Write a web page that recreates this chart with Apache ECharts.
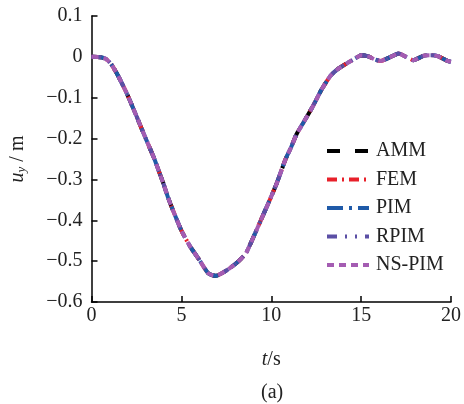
<!DOCTYPE html>
<html><head><meta charset="utf-8">
<script src="https://cdn.jsdelivr.net/npm/echarts@6/dist/echarts.min.js"></script>
<style>html,body{margin:0;padding:0;background:#fff}#c{width:464px;height:404px}</style>
</head><body><div id="c"></div>
<script>
var seriesNames = ['AMM', 'FEM', 'PIM', 'RPIM', 'NS-PIM'];
var tValues = [0, 0.5, 0.8, 1.1, 1.5, 2.0, 2.5, 3.0, 3.5, 3.75, 4.0, 4.25, 4.5, 5.0, 5.5, 6.0, 6.5, 6.9, 7.5, 8.0, 8.3, 8.6, 8.9, 9.4, 9.9, 10.3, 10.8, 11.1, 11.4, 11.8, 12.3, 12.8, 13.3, 13.7, 14.2, 14.7, 15.0, 15.4, 15.8, 16.1, 16.5, 17.1, 17.5, 17.9, 18.5, 19.0, 19.3, 19.8, 20.0];
var ammValues = [0, -0.001, -0.005, -0.018, -0.048, -0.093, -0.145, -0.198, -0.25, -0.28, -0.31, -0.343, -0.372, -0.425, -0.465, -0.497, -0.53, -0.536, -0.523, -0.507, -0.495, -0.48, -0.452, -0.402, -0.352, -0.31, -0.25, -0.222, -0.19, -0.16, -0.122, -0.08, -0.046, -0.03, -0.016, -0.003, 0.004, 0.001, -0.007, -0.01, -0.003, 0.008, 0.0, -0.008, 0.003, 0.004, 0.001, -0.01, -0.012];
var femValues = [0, -0.001, -0.005, -0.018, -0.048, -0.093, -0.145, -0.198, -0.25, -0.28, -0.31, -0.343, -0.372, -0.425, -0.465, -0.497, -0.53, -0.536, -0.523, -0.507, -0.495, -0.48, -0.452, -0.402, -0.352, -0.31, -0.25, -0.222, -0.19, -0.16, -0.122, -0.08, -0.046, -0.03, -0.016, -0.003, 0.004, 0.001, -0.007, -0.01, -0.003, 0.008, 0.0, -0.008, 0.003, 0.004, 0.001, -0.01, -0.012];
var pimValues = [0, -0.001, -0.005, -0.018, -0.048, -0.093, -0.145, -0.198, -0.25, -0.28, -0.31, -0.343, -0.372, -0.425, -0.465, -0.497, -0.53, -0.536, -0.523, -0.507, -0.495, -0.48, -0.452, -0.402, -0.352, -0.31, -0.25, -0.222, -0.19, -0.16, -0.122, -0.08, -0.046, -0.03, -0.016, -0.003, 0.004, 0.001, -0.007, -0.01, -0.003, 0.008, 0.0, -0.008, 0.003, 0.004, 0.001, -0.01, -0.012];
var rpimValues = [0, -0.001, -0.005, -0.018, -0.048, -0.093, -0.145, -0.198, -0.25, -0.28, -0.31, -0.343, -0.372, -0.425, -0.465, -0.497, -0.53, -0.536, -0.523, -0.507, -0.495, -0.48, -0.452, -0.402, -0.352, -0.31, -0.25, -0.222, -0.19, -0.16, -0.122, -0.08, -0.046, -0.03, -0.016, -0.003, 0.004, 0.001, -0.007, -0.01, -0.003, 0.008, 0.0, -0.008, 0.003, 0.004, 0.001, -0.01, -0.012];
var nspimValues = [0, -0.001, -0.005, -0.018, -0.048, -0.093, -0.145, -0.198, -0.25, -0.28, -0.31, -0.343, -0.372, -0.425, -0.465, -0.497, -0.53, -0.536, -0.523, -0.507, -0.495, -0.48, -0.452, -0.402, -0.352, -0.31, -0.25, -0.222, -0.19, -0.16, -0.122, -0.08, -0.046, -0.03, -0.016, -0.003, 0.004, 0.001, -0.007, -0.01, -0.003, 0.008, 0.0, -0.008, 0.003, 0.004, 0.001, -0.01, -0.012];
var xTicks = [0, 5, 10, 15, 20];
var yTicks = [0.1, 0, -0.1, -0.2, -0.3, -0.4, -0.5, -0.6];

var allValues = [ammValues, femValues, pimValues, rpimValues, nspimValues];
var colors = ['#000000', '#e8202a', '#1f5aa8', '#5b4fa5', '#a45cb2'];
var dashes = [[13, 15], [10, 5, 2, 5], [16, 6, 3, 6], [10, 8, 2, 8, 2, 8], [7, 5]];
var FONT = 'Liberation Serif';
var FS = 20;

function pairs(v) { return tValues.map(function (t, i) { return [t, v[i]]; }); }

var series = seriesNames.map(function (name, k) {
  return {
    name: name, type: 'line', data: pairs(allValues[k]), symbol: 'none', showSymbol: false, smooth: 0.2,
    z: 2 + k,
    lineStyle: { color: colors[k], width: 4, type: dashes[k], cap: 'butt' },
    itemStyle: { color: colors[k] }
  };
});

var chart = echarts.init(document.getElementById('c'), null, { renderer: 'canvas' });
chart.setOption({
  animation: false,
  backgroundColor: '#fff',
  grid: { left: 91, right: 10, top: 16, bottom: 102 },
  xAxis: {
    type: 'value', min: xTicks[0], max: xTicks[xTicks.length - 1], interval: 5,
    name: '{i|t}/s', nameLocation: 'middle', nameGap: 48,
    nameTextStyle: { fontFamily: FONT, fontSize: FS, color: '#222', rich: { i: { fontStyle: 'italic', fontFamily: FONT, fontSize: FS, color: '#222' } } },
    axisLine: { onZero: false, lineStyle: { color: '#000', width: 1.5 } },
    axisTick: { inside: true, length: 6, lineStyle: { color: '#000', width: 1.5 } },
    axisLabel: { fontFamily: FONT, fontSize: FS, color: '#222', margin: 4 },
    splitLine: { show: false }
  },
  yAxis: {
    type: 'value', min: yTicks[yTicks.length - 1], max: yTicks[0], interval: 0.1,
    name: '{i|u}{s|y} / m', nameLocation: 'middle', nameGap: 63, nameRotate: 90,
    nameTextStyle: { fontFamily: FONT, fontSize: FS, color: '#222', rich: {
      i: { fontStyle: 'italic', fontFamily: FONT, fontSize: FS, color: '#222' },
      s: { fontStyle: 'italic', fontFamily: FONT, fontSize: 13, color: '#222', padding: [8, 0, 0, 0] }
    } },
    axisLine: { onZero: false, lineStyle: { color: '#000', width: 1.5 } },
    axisTick: { inside: true, length: 6, lineStyle: { color: '#000', width: 1.5 } },
    axisLabel: { fontFamily: FONT, fontSize: FS, color: '#222', margin: 9,
      formatter: function (v) { var r = Math.round(v * 10) / 10; return r < 0 ? '\u2212' + String(-r) : String(r); } },
    splitLine: { show: false }
  },
  legend: {
    orient: 'vertical', left: 320, top: 136, itemWidth: 42, itemHeight: 14, itemGap: 8.5,
    itemStyle: { opacity: 0 },
    lineStyle: { width: 4 },
    textStyle: { fontFamily: FONT, fontSize: FS, color: '#222', padding: [0, 0, 0, 2] },
    data: seriesNames
  },
  graphic: [{ type: 'text', left: 261, top: 383, style: { text: '(a)', font: FS + 'px "Liberation Serif"', fill: '#222' } }],
  series: series
});
</script></body></html>
